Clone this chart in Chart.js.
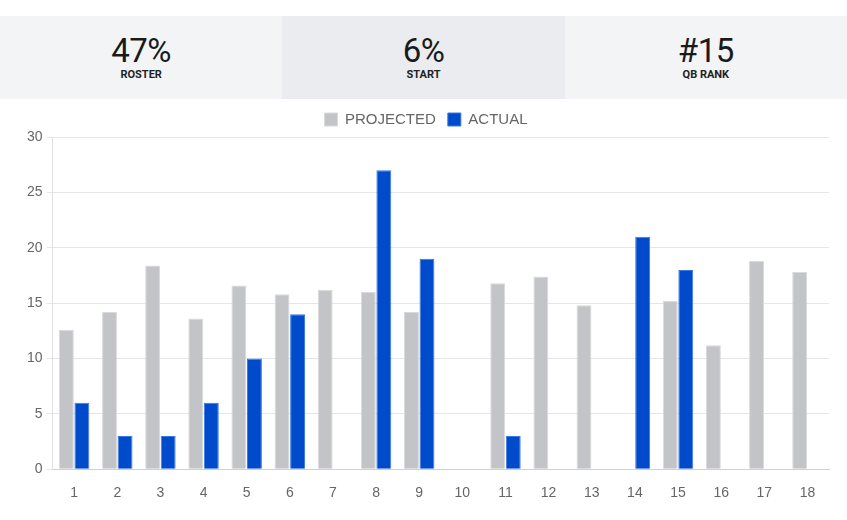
<!DOCTYPE html>
<html lang="en">
<head>
<meta charset="UTF-8">
<title>QB stats</title>
<script src="https://cdn.jsdelivr.net/npm/chart.js"></script>
<style>
  body { margin: 0; background: #fff; font-family: Roboto, "Liberation Sans", sans-serif; }
  .stats { display: flex; margin-top: 16px; height: 83px; }
  .stat { flex: 1; text-align: center; background: #f3f4f6; padding-top: 18px; box-sizing: border-box; }
  .stat.mid { background: #ebecef; }
  .stat .num { font-size: 33px; color: #1a1a1a; line-height: 34px; letter-spacing: -0.5px; }
  .stat .lbl { font-family: "Liberation Sans Narrow", "Roboto", sans-serif; font-weight: bold; font-size: 11px; color: #222; margin-top: 0px; }
  .chart { position: relative; width: 847px; height: 421px; }
</style>
</head>
<body>
<div class="stats">
  <div class="stat"><div class="num">47%</div><div class="lbl">ROSTER</div></div>
  <div class="stat mid"><div class="num">6%</div><div class="lbl">START</div></div>
  <div class="stat"><div class="num">#15</div><div class="lbl">QB RANK</div></div>
</div>
<div class="chart"><canvas id="grafico"></canvas></div>

<script>
  const semanas = ['1','2','3','4','5','6','7','8','9','10','11','12','13','14','15','16','17','18'];
  const projetado = [12.6, 14.2, 18.4, 13.6, 16.6, 15.8, 16.2, 16.0, 14.2, null, 16.8, 17.4, 14.8, null, 15.2, 11.2, 18.8, 17.8];
  const real = [6, 3, 3, 6, 10, 14, null, 27, 19, null, 3, null, null, 21, 18, null, null, null];
  const ticksY = [0, 5, 10, 15, 20, 25, 30];

  new Chart(document.getElementById('grafico'), {
    type: 'bar',
    data: {
      labels: semanas,
      datasets: [
        { label: 'PROJECTED', data: projetado, backgroundColor: '#c3c4c7', borderColor: '#d9dadc', borderWidth: 1 },
        { label: 'ACTUAL', data: real, backgroundColor: '#004bcc', borderColor: '#3a78e0', borderWidth: 1 }
      ]
    },
    options: {
      responsive: true,
      maintainAspectRatio: false,
      animation: false,
      layout: { padding: { left: 23, right: 18, top: 1, bottom: 10 } },
      categoryPercentage: 0.72,
      barPercentage: 0.96,
      plugins: {
        legend: {
          labels: {
            boxWidth: 13, boxHeight: 13, color: '#666', padding: 12,
            font: { family: 'Liberation Sans, Arial, sans-serif', size: 15 }
          }
        },
        tooltip: { enabled: false }
      },
      scales: {
        x: {
          grid: { display: false },
          border: { color: '#d0d0d0' },
          ticks: { color: '#666', font: { family: 'Liberation Sans, Arial, sans-serif', size: 14 }, padding: 8 }
        },
        y: {
          min: 0, max: 30,
          afterBuildTicks: axis => { axis.ticks = ticksY.map(v => ({ value: v })); },
          grid: { color: '#e6e6e6', drawTicks: true, tickLength: 6 },
          border: { color: '#e0e0e0' },
          ticks: { color: '#666', font: { family: 'Liberation Sans, Arial, sans-serif', size: 14 }, padding: 4 }
        }
      }
    }
  });
</script>
</body>
</html>
